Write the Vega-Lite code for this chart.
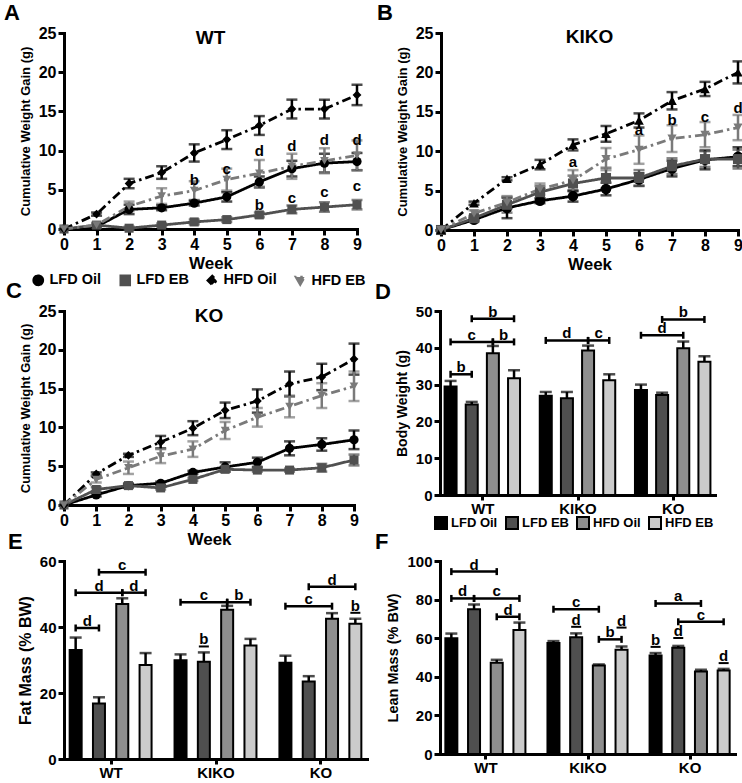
{
"$schema":"https://vega.github.io/schema/vega-lite/v6.json",
"background":"white",
"padding":{"left":4,"top":2,"right":2,"bottom":0},
"config":{
 "font":"Liberation Sans",
 "view":{"stroke":null},
 "axis":{"labelFont":"Liberation Sans","titleFont":"Liberation Sans","labelFontWeight":"bold","titleFontWeight":"bold","labelColor":"#000","titleColor":"#000","domainColor":"#000","tickColor":"#000","domainWidth":3,"tickWidth":3,"tickSize":6,"labelFontSize":15,"titleFontSize":14,"grid":false,"labelFlush":false,"labelOverlap":false,"labelBound":false,"domainCap":"square"},
 "axisY":{"titlePadding":6,"labelPadding":2},
 "axisX":{"labelPadding":1},
 "legend":{"labelFont":"Liberation Sans","labelFontWeight":"bold","labelFontSize":14,"labelColor":"#000","symbolOpacity":1},
 "title":{"font":"Liberation Sans","fontWeight":"bold","color":"#000"},
 "text":{"font":"Liberation Sans","fontWeight":"bold","color":"#000"}
},
"datasets":{
 "growth":[
  {"geno":"WT","diet":"LFD Oil","week":0,"mean":0,"sem":0},{"geno":"WT","diet":"LFD Oil","week":1,"mean":0.3,"sem":0.2},{"geno":"WT","diet":"LFD Oil","week":2,"mean":2.5,"sem":0.6},{"geno":"WT","diet":"LFD Oil","week":3,"mean":2.7,"sem":0.3},{"geno":"WT","diet":"LFD Oil","week":4,"mean":3.3,"sem":0.3},{"geno":"WT","diet":"LFD Oil","week":5,"mean":4.1,"sem":0.6},{"geno":"WT","diet":"LFD Oil","week":6,"mean":6.0,"sem":0.7},{"geno":"WT","diet":"LFD Oil","week":7,"mean":7.7,"sem":1.0},{"geno":"WT","diet":"LFD Oil","week":8,"mean":8.4,"sem":1.2},{"geno":"WT","diet":"LFD Oil","week":9,"mean":8.6,"sem":1.1},
  {"geno":"WT","diet":"LFD EB","week":0,"mean":0,"sem":0},{"geno":"WT","diet":"LFD EB","week":1,"mean":0.5,"sem":0.2},{"geno":"WT","diet":"LFD EB","week":2,"mean":0.1,"sem":0.2},{"geno":"WT","diet":"LFD EB","week":3,"mean":0.5,"sem":0.2},{"geno":"WT","diet":"LFD EB","week":4,"mean":0.9,"sem":0.3},{"geno":"WT","diet":"LFD EB","week":5,"mean":1.2,"sem":0.3},{"geno":"WT","diet":"LFD EB","week":6,"mean":1.8,"sem":0.3},{"geno":"WT","diet":"LFD EB","week":7,"mean":2.5,"sem":0.5},{"geno":"WT","diet":"LFD EB","week":8,"mean":2.8,"sem":0.6},{"geno":"WT","diet":"LFD EB","week":9,"mean":3.1,"sem":0.6},
  {"geno":"WT","diet":"HFD Oil","week":0,"mean":0,"sem":0},{"geno":"WT","diet":"HFD Oil","week":1,"mean":1.9,"sem":0.2},{"geno":"WT","diet":"HFD Oil","week":2,"mean":5.8,"sem":0.6},{"geno":"WT","diet":"HFD Oil","week":3,"mean":7.2,"sem":0.8},{"geno":"WT","diet":"HFD Oil","week":4,"mean":9.7,"sem":1.1},{"geno":"WT","diet":"HFD Oil","week":5,"mean":11.4,"sem":1.2},{"geno":"WT","diet":"HFD Oil","week":6,"mean":13.2,"sem":1.2},{"geno":"WT","diet":"HFD Oil","week":7,"mean":15.3,"sem":1.2},{"geno":"WT","diet":"HFD Oil","week":8,"mean":15.3,"sem":1.2},{"geno":"WT","diet":"HFD Oil","week":9,"mean":17.1,"sem":1.3},
  {"geno":"WT","diet":"HFD EB","week":0,"mean":0,"sem":0},{"geno":"WT","diet":"HFD EB","week":1,"mean":0.5,"sem":0.3},{"geno":"WT","diet":"HFD EB","week":2,"mean":2.9,"sem":0.6},{"geno":"WT","diet":"HFD EB","week":3,"mean":4.2,"sem":1.0},{"geno":"WT","diet":"HFD EB","week":4,"mean":4.9,"sem":1.2},{"geno":"WT","diet":"HFD EB","week":5,"mean":6.3,"sem":1.4},{"geno":"WT","diet":"HFD EB","week":6,"mean":7.1,"sem":1.7},{"geno":"WT","diet":"HFD EB","week":7,"mean":8.0,"sem":1.6},{"geno":"WT","diet":"HFD EB","week":8,"mean":8.7,"sem":1.6},{"geno":"WT","diet":"HFD EB","week":9,"mean":9.4,"sem":1.9},
  {"geno":"KIKO","diet":"LFD Oil","week":0,"mean":0,"sem":0},{"geno":"KIKO","diet":"LFD Oil","week":1,"mean":1.3,"sem":0.2},{"geno":"KIKO","diet":"LFD Oil","week":2,"mean":2.8,"sem":1.3},{"geno":"KIKO","diet":"LFD Oil","week":3,"mean":3.7,"sem":0.3},{"geno":"KIKO","diet":"LFD Oil","week":4,"mean":4.3,"sem":0.7},{"geno":"KIKO","diet":"LFD Oil","week":5,"mean":5.2,"sem":0.8},{"geno":"KIKO","diet":"LFD Oil","week":6,"mean":6.4,"sem":0.8},{"geno":"KIKO","diet":"LFD Oil","week":7,"mean":7.8,"sem":1.0},{"geno":"KIKO","diet":"LFD Oil","week":8,"mean":8.9,"sem":1.2},{"geno":"KIKO","diet":"LFD Oil","week":9,"mean":9.3,"sem":1.2},
  {"geno":"KIKO","diet":"LFD EB","week":0,"mean":0,"sem":0},{"geno":"KIKO","diet":"LFD EB","week":1,"mean":1.5,"sem":0.3},{"geno":"KIKO","diet":"LFD EB","week":2,"mean":3.2,"sem":1.0},{"geno":"KIKO","diet":"LFD EB","week":3,"mean":4.8,"sem":0.8},{"geno":"KIKO","diet":"LFD EB","week":4,"mean":5.9,"sem":1.0},{"geno":"KIKO","diet":"LFD EB","week":5,"mean":6.6,"sem":1.3},{"geno":"KIKO","diet":"LFD EB","week":6,"mean":6.6,"sem":1.0},{"geno":"KIKO","diet":"LFD EB","week":7,"mean":8.1,"sem":1.0},{"geno":"KIKO","diet":"LFD EB","week":8,"mean":9.0,"sem":1.0},{"geno":"KIKO","diet":"LFD EB","week":9,"mean":9.0,"sem":1.2},
  {"geno":"KIKO","diet":"HFD Oil","week":0,"mean":0,"sem":0},{"geno":"KIKO","diet":"HFD Oil","week":1,"mean":3.4,"sem":0.2},{"geno":"KIKO","diet":"HFD Oil","week":2,"mean":6.5,"sem":0.2},{"geno":"KIKO","diet":"HFD Oil","week":3,"mean":8.3,"sem":0.6},{"geno":"KIKO","diet":"HFD Oil","week":4,"mean":10.8,"sem":0.7},{"geno":"KIKO","diet":"HFD Oil","week":5,"mean":12.2,"sem":1.0},{"geno":"KIKO","diet":"HFD Oil","week":6,"mean":13.9,"sem":0.9},{"geno":"KIKO","diet":"HFD Oil","week":7,"mean":16.4,"sem":1.1},{"geno":"KIKO","diet":"HFD Oil","week":8,"mean":17.9,"sem":0.9},{"geno":"KIKO","diet":"HFD Oil","week":9,"mean":20.0,"sem":1.4},
  {"geno":"KIKO","diet":"HFD EB","week":0,"mean":0,"sem":0},{"geno":"KIKO","diet":"HFD EB","week":1,"mean":2.1,"sem":0.4},{"geno":"KIKO","diet":"HFD EB","week":2,"mean":3.5,"sem":0.8},{"geno":"KIKO","diet":"HFD EB","week":3,"mean":5.2,"sem":0.7},{"geno":"KIKO","diet":"HFD EB","week":4,"mean":6.3,"sem":1.3},{"geno":"KIKO","diet":"HFD EB","week":5,"mean":9.0,"sem":1.4},{"geno":"KIKO","diet":"HFD EB","week":6,"mean":10.2,"sem":1.8},{"geno":"KIKO","diet":"HFD EB","week":7,"mean":11.6,"sem":1.7},{"geno":"KIKO","diet":"HFD EB","week":8,"mean":12.1,"sem":1.6},{"geno":"KIKO","diet":"HFD EB","week":9,"mean":13.0,"sem":1.6},
  {"geno":"KO","diet":"LFD Oil","week":0,"mean":0,"sem":0},{"geno":"KO","diet":"LFD Oil","week":1,"mean":1.3,"sem":0.2},{"geno":"KO","diet":"LFD Oil","week":2,"mean":2.5,"sem":0.2},{"geno":"KO","diet":"LFD Oil","week":3,"mean":2.8,"sem":0.2},{"geno":"KO","diet":"LFD Oil","week":4,"mean":4.2,"sem":0.2},{"geno":"KO","diet":"LFD Oil","week":5,"mean":4.9,"sem":0.6},{"geno":"KO","diet":"LFD Oil","week":6,"mean":5.5,"sem":0.6},{"geno":"KO","diet":"LFD Oil","week":7,"mean":7.3,"sem":0.9},{"geno":"KO","diet":"LFD Oil","week":8,"mean":7.8,"sem":0.8},{"geno":"KO","diet":"LFD Oil","week":9,"mean":8.4,"sem":1.2},
  {"geno":"KO","diet":"LFD EB","week":0,"mean":0,"sem":0},{"geno":"KO","diet":"LFD EB","week":1,"mean":2.0,"sem":0.3},{"geno":"KO","diet":"LFD EB","week":2,"mean":2.5,"sem":0.3},{"geno":"KO","diet":"LFD EB","week":3,"mean":2.2,"sem":0.2},{"geno":"KO","diet":"LFD EB","week":4,"mean":3.3,"sem":0.2},{"geno":"KO","diet":"LFD EB","week":5,"mean":4.6,"sem":0.3},{"geno":"KO","diet":"LFD EB","week":6,"mean":4.5,"sem":0.2},{"geno":"KO","diet":"LFD EB","week":7,"mean":4.5,"sem":0.2},{"geno":"KO","diet":"LFD EB","week":8,"mean":4.8,"sem":0.5},{"geno":"KO","diet":"LFD EB","week":9,"mean":5.8,"sem":0.7},
  {"geno":"KO","diet":"HFD Oil","week":0,"mean":0,"sem":0},{"geno":"KO","diet":"HFD Oil","week":1,"mean":4.0,"sem":0.2},{"geno":"KO","diet":"HFD Oil","week":2,"mean":6.4,"sem":0.2},{"geno":"KO","diet":"HFD Oil","week":3,"mean":8.1,"sem":0.8},{"geno":"KO","diet":"HFD Oil","week":4,"mean":9.9,"sem":0.9},{"geno":"KO","diet":"HFD Oil","week":5,"mean":12.2,"sem":1.0},{"geno":"KO","diet":"HFD Oil","week":6,"mean":13.4,"sem":1.5},{"geno":"KO","diet":"HFD Oil","week":7,"mean":15.6,"sem":1.6},{"geno":"KO","diet":"HFD Oil","week":8,"mean":16.5,"sem":1.7},{"geno":"KO","diet":"HFD Oil","week":9,"mean":18.8,"sem":2.0},
  {"geno":"KO","diet":"HFD EB","week":0,"mean":0,"sem":0},{"geno":"KO","diet":"HFD EB","week":1,"mean":3.3,"sem":0.4},{"geno":"KO","diet":"HFD EB","week":2,"mean":4.8,"sem":0.8},{"geno":"KO","diet":"HFD EB","week":3,"mean":6.3,"sem":0.9},{"geno":"KO","diet":"HFD EB","week":4,"mean":7.2,"sem":1.0},{"geno":"KO","diet":"HFD EB","week":5,"mean":9.6,"sem":1.1},{"geno":"KO","diet":"HFD EB","week":6,"mean":11.3,"sem":1.2},{"geno":"KO","diet":"HFD EB","week":7,"mean":12.7,"sem":1.4},{"geno":"KO","diet":"HFD EB","week":8,"mean":14.1,"sem":1.6},{"geno":"KO","diet":"HFD EB","week":9,"mean":15.3,"sem":1.9}
 ],
 "lineNotes":[
  {"geno":"WT","week":4,"y":6.2,"label":"b"},{"geno":"WT","week":5,"y":7.7,"label":"c"},{"geno":"WT","week":6,"y":10.0,"label":"d"},{"geno":"WT","week":6,"y":3.1,"label":"b"},{"geno":"WT","week":7,"y":10.6,"label":"d"},{"geno":"WT","week":7,"y":4.0,"label":"c"},{"geno":"WT","week":8,"y":11.3,"label":"d"},{"geno":"WT","week":8,"y":4.7,"label":"c"},{"geno":"WT","week":9,"y":11.3,"label":"d"},{"geno":"WT","week":9,"y":5.5,"label":"c"},
  {"geno":"KIKO","week":4,"y":8.6,"label":"a"},{"geno":"KIKO","week":6,"y":12.7,"label":"a"},{"geno":"KIKO","week":7,"y":13.9,"label":"b"},{"geno":"KIKO","week":8,"y":14.4,"label":"c"},{"geno":"KIKO","week":9,"y":15.5,"label":"d"}
 ],
 "bars":[
  {"panel":"D","key":"WT LFD Oil","cond":"LFD Oil","mean":29.5,"sem":1.5},{"panel":"D","key":"WT LFD EB","cond":"LFD EB","mean":24.6,"sem":0.7},{"panel":"D","key":"WT HFD Oil","cond":"HFD Oil","mean":38.5,"sem":2.0},{"panel":"D","key":"WT HFD EB","cond":"HFD EB","mean":31.7,"sem":2.2},
  {"panel":"D","key":"KIKO LFD Oil","cond":"LFD Oil","mean":27.0,"sem":1.0},{"panel":"D","key":"KIKO LFD EB","cond":"LFD EB","mean":26.3,"sem":1.7},{"panel":"D","key":"KIKO HFD Oil","cond":"HFD Oil","mean":39.3,"sem":1.3},{"panel":"D","key":"KIKO HFD EB","cond":"HFD EB","mean":31.2,"sem":1.6},
  {"panel":"D","key":"KO LFD Oil","cond":"LFD Oil","mean":28.5,"sem":1.5},{"panel":"D","key":"KO LFD EB","cond":"LFD EB","mean":27.2,"sem":0.6},{"panel":"D","key":"KO HFD Oil","cond":"HFD Oil","mean":39.9,"sem":1.8},{"panel":"D","key":"KO HFD EB","cond":"HFD EB","mean":36.2,"sem":1.5},
  {"panel":"E","key":"WT LFD Oil","cond":"LFD Oil","mean":33.0,"sem":3.8},{"panel":"E","key":"WT LFD EB","cond":"LFD EB","mean":16.8,"sem":1.9},{"panel":"E","key":"WT HFD Oil","cond":"HFD Oil","mean":47.0,"sem":1.7},{"panel":"E","key":"WT HFD EB","cond":"HFD EB","mean":28.5,"sem":3.6},
  {"panel":"E","key":"KIKO LFD Oil","cond":"LFD Oil","mean":29.9,"sem":1.8},{"panel":"E","key":"KIKO LFD EB","cond":"LFD EB","mean":29.5,"sem":2.8},{"panel":"E","key":"KIKO HFD Oil","cond":"HFD Oil","mean":45.2,"sem":1.2},{"panel":"E","key":"KIKO HFD EB","cond":"HFD EB","mean":34.4,"sem":2.0},
  {"panel":"E","key":"KO LFD Oil","cond":"LFD Oil","mean":29.2,"sem":2.1},{"panel":"E","key":"KO LFD EB","cond":"LFD EB","mean":23.5,"sem":1.6},{"panel":"E","key":"KO HFD Oil","cond":"HFD Oil","mean":42.5,"sem":1.7},{"panel":"E","key":"KO HFD EB","cond":"HFD EB","mean":41.0,"sem":1.5},
  {"panel":"F","key":"WT LFD Oil","cond":"LFD Oil","mean":60.0,"sem":2.4},{"panel":"F","key":"WT LFD EB","cond":"LFD EB","mean":75.0,"sem":2.5},{"panel":"F","key":"WT HFD Oil","cond":"HFD Oil","mean":47.3,"sem":1.5},{"panel":"F","key":"WT HFD EB","cond":"HFD EB","mean":64.3,"sem":3.8},
  {"panel":"F","key":"KIKO LFD Oil","cond":"LFD Oil","mean":57.5,"sem":1.0},{"panel":"F","key":"KIKO LFD EB","cond":"LFD EB","mean":60.5,"sem":2.0},{"panel":"F","key":"KIKO HFD Oil","cond":"HFD Oil","mean":45.8,"sem":0.6},{"panel":"F","key":"KIKO HFD EB","cond":"HFD EB","mean":54.0,"sem":1.7},
  {"panel":"F","key":"KO LFD Oil","cond":"LFD Oil","mean":51.0,"sem":1.3},{"panel":"F","key":"KO LFD EB","cond":"LFD EB","mean":55.0,"sem":1.0},{"panel":"F","key":"KO HFD Oil","cond":"HFD Oil","mean":42.8,"sem":0.8},{"panel":"F","key":"KO HFD EB","cond":"HFD EB","mean":43.3,"sem":0.8}
 ],
 "ann":[
  {"panel":"D","from":"WT LFD Oil","to":"WT LFD EB","mid":"WT m12","y":32.8,"label":"b"},
  {"panel":"D","from":"WT LFD Oil","to":"WT HFD Oil","mid":"WT LFD EB","y":41.6,"label":"c"},
  {"panel":"D","from":"WT HFD Oil","to":"WT HFD EB","mid":"WT m34","y":41.6,"label":"b"},
  {"panel":"D","from":"WT LFD EB","to":"WT HFD EB","mid":"WT HFD Oil","y":47.9,"label":"b"},
  {"panel":"D","from":"KIKO LFD Oil","to":"KIKO HFD Oil","mid":"KIKO LFD EB","y":42.0,"label":"d"},
  {"panel":"D","from":"KIKO HFD Oil","to":"KIKO HFD EB","mid":"KIKO m34","y":42.0,"label":"c"},
  {"panel":"D","from":"KO LFD Oil","to":"KO HFD Oil","mid":"KO LFD EB","y":43.4,"label":"d"},
  {"panel":"D","from":"KO LFD EB","to":"KO HFD EB","mid":"KO HFD Oil","y":47.7,"label":"b"},
  {"panel":"E","from":"WT LFD Oil","to":"WT LFD EB","mid":"WT m12","y":39.7,"label":"d"},
  {"panel":"E","from":"WT LFD Oil","to":"WT HFD Oil","mid":"WT LFD EB","y":50.4,"label":"d"},
  {"panel":"E","from":"WT HFD Oil","to":"WT HFD EB","mid":"WT m34","y":50.4,"label":"d"},
  {"panel":"E","from":"WT LFD EB","to":"WT HFD EB","mid":"WT HFD Oil","y":56.6,"label":"c"},
  {"panel":"E","from":"KIKO LFD Oil","to":"KIKO HFD Oil","mid":"KIKO LFD EB","y":47.5,"label":"c"},
  {"panel":"E","from":"KIKO HFD Oil","to":"KIKO HFD EB","mid":"KIKO m34","y":47.5,"label":"b"},
  {"panel":"E","mid":"KIKO LFD EB","y":34.1,"label":"b"},
  {"panel":"E","from":"KO LFD Oil","to":"KO HFD Oil","mid":"KO LFD EB","y":46.3,"label":"c"},
  {"panel":"E","from":"KO LFD EB","to":"KO HFD EB","mid":"KO HFD Oil","y":52.2,"label":"d"},
  {"panel":"E","mid":"KO HFD EB","y":44.3,"label":"b"},
  {"panel":"F","from":"WT LFD Oil","to":"WT HFD Oil","mid":"WT LFD EB","y":94.5,"label":"d"},
  {"panel":"F","from":"WT LFD Oil","to":"WT LFD EB","mid":"WT m12","y":80.6,"label":"d"},
  {"panel":"F","from":"WT LFD EB","to":"WT HFD EB","mid":"WT HFD Oil","y":80.6,"label":"c"},
  {"panel":"F","from":"WT HFD Oil","to":"WT HFD EB","mid":"WT m34","y":71.1,"label":"d"},
  {"panel":"F","from":"KIKO LFD Oil","to":"KIKO HFD Oil","mid":"KIKO LFD EB","y":75.0,"label":"c"},
  {"panel":"F","mid":"KIKO LFD EB","y":65.9,"label":"d"},
  {"panel":"F","from":"KIKO HFD Oil","to":"KIKO HFD EB","mid":"KIKO m34","y":59.4,"label":"b"},
  {"panel":"F","mid":"KIKO HFD EB","y":65.5,"label":"d"},
  {"panel":"F","from":"KO LFD Oil","to":"KO HFD Oil","mid":"KO LFD EB","y":78.0,"label":"a"},
  {"panel":"F","from":"KO LFD EB","to":"KO HFD EB","mid":"KO HFD Oil","y":68.5,"label":"c"},
  {"panel":"F","mid":"KO LFD Oil","y":55.5,"label":"b"},
  {"panel":"F","mid":"KO LFD EB","y":60.1,"label":"d"},
  {"panel":"F","mid":"KO HFD EB","y":47.1,"label":"d"}
 ]
},
"spacing":-10,
"resolve":{"scale":{"color":"independent","fill":"independent","shape":"independent","strokeDash":"independent","size":"independent"},"legend":{"color":"independent","fill":"independent","shape":"independent","strokeDash":"independent","size":"independent"}},
"vconcat":[
{"hconcat":[
 {"width":293,"height":196,
  "title":{"text":"A","anchor":"start","frame":"group","dx":-60,"fontSize":22,"offset":0},
  "layer":[
   {"data":{"name":"growth"},"transform":[{"filter":"datum.geno == 'WT'"}],
    "encoding":{
     "x":{"field":"week","type":"quantitative","scale":{"domain":[0,9],"nice":false},"axis":{"values":[0,1,2,3,4,5,6,7,8,9],"title":"Week","titleFontSize":17,"titlePadding":3,"format":"d","labelFontSize":16}},
     "y":{"field":"mean","type":"quantitative","scale":{"domain":[0,25],"nice":false},"axis":{"values":[0,5,10,15,20,25],"title":"Cumulative Weight Gain (g)","titleFontSize":13,"labelFontSize":16}},
     "color":{"field":"diet","type":"nominal","scale":{"domain":["LFD Oil","LFD EB","HFD Oil","HFD EB"],"range":["#000000","#505050","#000000","#7a7a7a"]},
      "legend":{"orient":"none","legendX":-33,"legendY":240,"direction":"horizontal","columns":4,"title":null,"symbolSize":110,"symbolStrokeWidth":2.5,"symbolOpacity":1,"labelFontSize":14.5,"columnPadding":13,"labelOffset":4}}
    },
    "layer":[
     {"transform":[{"filter":"datum.sem > 0"}],"mark":{"type":"errorbar","ticks":true,"size":11,"thickness":2.5},"encoding":{"yError":{"field":"sem"}}},
     {"mark":{"type":"line","strokeWidth":2.8},"encoding":{"strokeDash":{"field":"diet","type":"nominal","scale":{"domain":["LFD Oil","LFD EB","HFD Oil","HFD EB"],"range":[[1,0],[1,0],[9,4,2.5,4],[9,4,2.5,4]]},"legend":null}}},
     {"mark":{"type":"point","filled":true,"opacity":1},"encoding":{"shape":{"field":"diet","type":"nominal","scale":{"domain":["LFD Oil","LFD EB","HFD Oil","HFD EB"],"range":["circle","square","diamond","triangle-down"]},"legend":null},"size":{"field":"diet","type":"nominal","scale":{"domain":["LFD Oil","LFD EB","HFD Oil","HFD EB"],"range":[85,75,55,85]},"legend":null}}}
    ]},
   {"data":{"name":"lineNotes"},"transform":[{"filter":"datum.geno == 'WT'"}],"mark":{"type":"text","fontSize":15,"baseline":"middle"},"encoding":{
     "x":{"field":"week","type":"quantitative","scale":{"domain":[0,9],"nice":false},"axis":{"values":[0,1,2,3,4,5,6,7,8,9],"title":"Week","titleFontSize":17,"titlePadding":3,"format":"d","labelFontSize":16}},
     "y":{"field":"y","type":"quantitative","scale":{"domain":[0,25],"nice":false},"axis":{"values":[0,5,10,15,20,25],"title":"Cumulative Weight Gain (g)","titleFontSize":13,"labelFontSize":16}},
     "text":{"field":"label"}}},
   {"data":{"values":[{"t":"WT"}]},"mark":{"type":"text","fontSize":19,"baseline":"middle"},"encoding":{
     "x":{"datum":4.5,"type":"quantitative","scale":{"domain":[0,9],"nice":false},"axis":{"values":[0,1,2,3,4,5,6,7,8,9],"title":"Week","titleFontSize":17,"titlePadding":3,"format":"d","labelFontSize":16}},
     "y":{"datum":24.4,"type":"quantitative","scale":{"domain":[0,25],"nice":false},"axis":{"values":[0,5,10,15,20,25],"title":"Cumulative Weight Gain (g)","titleFontSize":13,"labelFontSize":16}},
     "text":{"field":"t"}}}
  ]},
 {"width":297,"height":197,
  "title":{"text":"B","anchor":"start","frame":"group","dx":-64,"fontSize":22,"offset":0},
  "layer":[
   {"data":{"name":"growth"},"transform":[{"filter":"datum.geno == 'KIKO'"}],
    "encoding":{
     "x":{"field":"week","type":"quantitative","scale":{"domain":[0,9],"nice":false},"axis":{"values":[0,1,2,3,4,5,6,7,8,9],"title":"Week","titleFontSize":17,"titlePadding":3,"format":"d","labelFontSize":16}},
     "y":{"field":"mean","type":"quantitative","scale":{"domain":[0,25],"nice":false},"axis":{"values":[0,5,10,15,20,25],"title":"Cumulative Weight Gain (g)","titleFontSize":13,"labelFontSize":16}},
     "color":{"field":"diet","type":"nominal","scale":{"domain":["LFD Oil","LFD EB","HFD Oil","HFD EB"],"range":["#000000","#505050","#000000","#7a7a7a"]},"legend":null}
    },
    "layer":[
     {"transform":[{"filter":"datum.sem > 0"}],"mark":{"type":"errorbar","ticks":true,"size":11,"thickness":2.5},"encoding":{"yError":{"field":"sem"}}},
     {"mark":{"type":"line","strokeWidth":2.8},"encoding":{"strokeDash":{"field":"diet","type":"nominal","scale":{"domain":["LFD Oil","LFD EB","HFD Oil","HFD EB"],"range":[[1,0],[1,0],[9,4,2.5,4],[9,4,2.5,4]]},"legend":null}}},
     {"mark":{"type":"point","filled":true,"opacity":1},"encoding":{"shape":{"field":"diet","type":"nominal","scale":{"domain":["LFD Oil","LFD EB","HFD Oil","HFD EB"],"range":["circle","square","triangle-up","triangle-down"]},"legend":null},"size":{"field":"diet","type":"nominal","scale":{"domain":["LFD Oil","LFD EB","HFD Oil","HFD EB"],"range":[110,85,70,85]},"legend":null}}}
    ]},
   {"data":{"name":"lineNotes"},"transform":[{"filter":"datum.geno == 'KIKO'"}],"mark":{"type":"text","fontSize":15,"baseline":"middle"},"encoding":{
     "x":{"field":"week","type":"quantitative","scale":{"domain":[0,9],"nice":false},"axis":{"values":[0,1,2,3,4,5,6,7,8,9],"title":"Week","titleFontSize":17,"titlePadding":3,"format":"d","labelFontSize":16}},
     "y":{"field":"y","type":"quantitative","scale":{"domain":[0,25],"nice":false},"axis":{"values":[0,5,10,15,20,25],"title":"Cumulative Weight Gain (g)","titleFontSize":13,"labelFontSize":16}},
     "text":{"field":"label"}}},
   {"data":{"values":[{"t":"KIKO"}]},"mark":{"type":"text","fontSize":19,"baseline":"middle"},"encoding":{
     "x":{"datum":4.5,"type":"quantitative","scale":{"domain":[0,9],"nice":false},"axis":{"values":[0,1,2,3,4,5,6,7,8,9],"title":"Week","titleFontSize":17,"titlePadding":3,"format":"d","labelFontSize":16}},
     "y":{"datum":24.5,"type":"quantitative","scale":{"domain":[0,25],"nice":false},"axis":{"values":[0,5,10,15,20,25],"title":"Cumulative Weight Gain (g)","titleFontSize":13,"labelFontSize":16}},
     "text":{"field":"t"}}}
  ]}
],"spacing":11,
"resolve":{"scale":{"color":"independent","fill":"independent","shape":"independent","strokeDash":"independent","size":"independent"},"legend":{"color":"independent","fill":"independent","shape":"independent","strokeDash":"independent","size":"independent"}}},
{"vconcat":[
{"hconcat":[
 {"width":290,"height":194,
  "title":{"text":"C","anchor":"start","frame":"group","dx":-58,"fontSize":22,"offset":0},
  "layer":[
   {"data":{"name":"growth"},"transform":[{"filter":"datum.geno == 'KO'"}],
    "encoding":{
     "x":{"field":"week","type":"quantitative","scale":{"domain":[0,9],"nice":false},"axis":{"values":[0,1,2,3,4,5,6,7,8,9],"title":"Week","titleFontSize":17,"titlePadding":3,"format":"d","labelFontSize":16}},
     "y":{"field":"mean","type":"quantitative","scale":{"domain":[0,25],"nice":false},"axis":{"values":[0,5,10,15,20,25],"title":"Cumulative Weight Gain (g)","titleFontSize":13,"labelFontSize":16}},
     "color":{"field":"diet","type":"nominal","scale":{"domain":["LFD Oil","LFD EB","HFD Oil","HFD EB"],"range":["#000000","#505050","#000000","#7a7a7a"]},"legend":null}
    },
    "layer":[
     {"transform":[{"filter":"datum.sem > 0"}],"mark":{"type":"errorbar","ticks":true,"size":11,"thickness":2.5},"encoding":{"yError":{"field":"sem"}}},
     {"mark":{"type":"line","strokeWidth":2.8},"encoding":{"strokeDash":{"field":"diet","type":"nominal","scale":{"domain":["LFD Oil","LFD EB","HFD Oil","HFD EB"],"range":[[1,0],[1,0],[9,4,2.5,4],[9,4,2.5,4]]},"legend":null}}},
     {"mark":{"type":"point","filled":true,"opacity":1},"encoding":{"shape":{"field":"diet","type":"nominal","scale":{"domain":["LFD Oil","LFD EB","HFD Oil","HFD EB"],"range":["circle","square","diamond","triangle-down"]},"legend":null},"size":{"field":"diet","type":"nominal","scale":{"domain":["LFD Oil","LFD EB","HFD Oil","HFD EB"],"range":[85,75,55,85]},"legend":null}}}
    ]},
   {"data":{"values":[{"t":"KO"}]},"mark":{"type":"text","fontSize":19,"baseline":"middle"},"encoding":{
     "x":{"datum":4.5,"type":"quantitative","scale":{"domain":[0,9],"nice":false},"axis":{"values":[0,1,2,3,4,5,6,7,8,9],"title":"Week","titleFontSize":17,"titlePadding":3,"format":"d","labelFontSize":16}},
     "y":{"datum":24.3,"type":"quantitative","scale":{"domain":[0,25],"nice":false},"axis":{"values":[0,5,10,15,20,25],"title":"Cumulative Weight Gain (g)","titleFontSize":13,"labelFontSize":16}},
     "text":{"field":"t"}}}
  ]},
 {"width":275,"height":184,
  "title":{"text":"D","anchor":"start","frame":"group","dx":-65,"fontSize":22,"offset":0},
  "layer":[
   {"data":{"name":"bars"},"transform":[{"filter":"datum.panel == 'D'"}],
    "encoding":{
     "x":{"field":"key","type":"nominal","scale":{"type":"point","padding":1.4,"domain":["WT LFD Oil","WT m12","WT LFD EB","WT m23","WT HFD Oil","WT m34","WT HFD EB","s1","s2","KIKO LFD Oil","KIKO m12","KIKO LFD EB","KIKO m23","KIKO HFD Oil","KIKO m34","KIKO HFD EB","s3","s4","KO LFD Oil","KO m12","KO LFD EB","KO m23","KO HFD Oil","KO m34","KO HFD EB"]},"axis":{"values":["WT m23","KIKO m23","KO m23"],"labelExpr":"split(datum.value, ' ')[0]","title":null,"tickSize":5,"labelFontSize":15,"labelAngle":0}},
     "y":{"field":"mean","type":"quantitative","scale":{"domain":[0,50],"nice":false},"axis":{"values":[0,10,20,30,40,50],"title":"Body Weight (g)","titleFontSize":14,"labelFontSize":15}}
    },
    "layer":[
     {"mark":{"type":"errorbar","ticks":true,"size":12,"thickness":2.5,"color":"#000"},"encoding":{"yError":{"field":"sem"}}},
     {"mark":{"type":"bar","width":12,"stroke":"#000","strokeWidth":2},
      "encoding":{"fill":{"field":"cond","type":"nominal","scale":{"domain":["LFD Oil","LFD EB","HFD Oil","HFD EB"],"range":["#000000","#4f4f4f","#8e8e8e","#cbcbcb"]},
        "legend":{"orient":"none","legendX":-6,"legendY":205,"direction":"horizontal","columns":4,"title":null,"symbolType":"square","symbolSize":144,"symbolStrokeColor":"#000","symbolStrokeWidth":2,"symbolOpacity":1,"labelFontSize":13,"columnPadding":4,"labelOffset":3}}}}
    ]},
   {"data":{"name":"ann"},"transform":[{"filter":"datum.panel == 'D' && isValid(datum.from)"}],
    "encoding":{"y":{"field":"y","type":"quantitative","scale":{"domain":[0,50],"nice":false},"axis":{"values":[0,10,20,30,40,50],"title":"Body Weight (g)","titleFontSize":14,"labelFontSize":15}}},
    "layer":[
     {"mark":{"type":"rule","strokeWidth":2.5,"color":"#000"},"encoding":{"x":{"field":"from","type":"nominal","scale":{"type":"point","padding":1.4,"domain":["WT LFD Oil","WT m12","WT LFD EB","WT m23","WT HFD Oil","WT m34","WT HFD EB","s1","s2","KIKO LFD Oil","KIKO m12","KIKO LFD EB","KIKO m23","KIKO HFD Oil","KIKO m34","KIKO HFD EB","s3","s4","KO LFD Oil","KO m12","KO LFD EB","KO m23","KO HFD Oil","KO m34","KO HFD EB"]},"axis":{"values":["WT m23","KIKO m23","KO m23"],"labelExpr":"split(datum.value, ' ')[0]","title":null,"tickSize":5,"labelFontSize":15,"labelAngle":0}},"x2":{"field":"to"}}},
     {"mark":{"type":"point","shape":"M0,-1L0,1","size":49,"strokeWidth":2.5,"color":"#000","opacity":1},"encoding":{"x":{"field":"from","type":"nominal","scale":{"type":"point","padding":1.4,"domain":["WT LFD Oil","WT m12","WT LFD EB","WT m23","WT HFD Oil","WT m34","WT HFD EB","s1","s2","KIKO LFD Oil","KIKO m12","KIKO LFD EB","KIKO m23","KIKO HFD Oil","KIKO m34","KIKO HFD EB","s3","s4","KO LFD Oil","KO m12","KO LFD EB","KO m23","KO HFD Oil","KO m34","KO HFD EB"]},"axis":{"values":["WT m23","KIKO m23","KO m23"],"labelExpr":"split(datum.value, ' ')[0]","title":null,"tickSize":5,"labelFontSize":15,"labelAngle":0}}}},
     {"mark":{"type":"point","shape":"M0,-1L0,1","size":49,"strokeWidth":2.5,"color":"#000","opacity":1},"encoding":{"x":{"field":"to","type":"nominal","scale":{"type":"point","padding":1.4,"domain":["WT LFD Oil","WT m12","WT LFD EB","WT m23","WT HFD Oil","WT m34","WT HFD EB","s1","s2","KIKO LFD Oil","KIKO m12","KIKO LFD EB","KIKO m23","KIKO HFD Oil","KIKO m34","KIKO HFD EB","s3","s4","KO LFD Oil","KO m12","KO LFD EB","KO m23","KO HFD Oil","KO m34","KO HFD EB"]},"axis":{"values":["WT m23","KIKO m23","KO m23"],"labelExpr":"split(datum.value, ' ')[0]","title":null,"tickSize":5,"labelFontSize":15,"labelAngle":0}}}}
    ]},
   {"data":{"name":"ann"},"transform":[{"filter":"datum.panel == 'D'"}],
    "mark":{"type":"text","fontSize":15,"baseline":"alphabetic","dy":-2},
    "encoding":{"x":{"field":"mid","type":"nominal","scale":{"type":"point","padding":1.4,"domain":["WT LFD Oil","WT m12","WT LFD EB","WT m23","WT HFD Oil","WT m34","WT HFD EB","s1","s2","KIKO LFD Oil","KIKO m12","KIKO LFD EB","KIKO m23","KIKO HFD Oil","KIKO m34","KIKO HFD EB","s3","s4","KO LFD Oil","KO m12","KO LFD EB","KO m23","KO HFD Oil","KO m34","KO HFD EB"]},"axis":{"values":["WT m23","KIKO m23","KO m23"],"labelExpr":"split(datum.value, ' ')[0]","title":null,"tickSize":5,"labelFontSize":15,"labelAngle":0}},
     "y":{"field":"y","type":"quantitative","scale":{"domain":[0,50],"nice":false},"axis":{"values":[0,10,20,30,40,50],"title":"Body Weight (g)","titleFontSize":14,"labelFontSize":15}},"text":{"field":"label"}}}
  ]}
],"spacing":15,
"resolve":{"scale":{"color":"independent","fill":"independent","shape":"independent","strokeDash":"independent","size":"independent"},"legend":{"color":"independent","fill":"independent","shape":"independent","strokeDash":"independent","size":"independent"}}},
{"hconcat":[
 {"width":303,"height":198,
  "title":{"text":"E","anchor":"start","frame":"group","dx":-56,"fontSize":22,"offset":0},
  "layer":[
   {"data":{"name":"bars"},"transform":[{"filter":"datum.panel == 'E'"}],
    "encoding":{
     "x":{"field":"key","type":"nominal","scale":{"type":"point","padding":1.8,"domain":["WT LFD Oil","WT m12","WT LFD EB","WT m23","WT HFD Oil","WT m34","WT HFD EB","s1","s2","KIKO LFD Oil","KIKO m12","KIKO LFD EB","KIKO m23","KIKO HFD Oil","KIKO m34","KIKO HFD EB","s3","s4","KO LFD Oil","KO m12","KO LFD EB","KO m23","KO HFD Oil","KO m34","KO HFD EB"]},"axis":{"values":["WT m23","KIKO m23","KO m23"],"labelExpr":"split(datum.value, ' ')[0]","title":null,"tickSize":5,"labelFontSize":15,"labelAngle":0}},
     "y":{"field":"mean","type":"quantitative","scale":{"domain":[0,60],"nice":false},"axis":{"values":[0,20,40,60],"title":"Fat Mass (% BW)","titleFontSize":16,"labelFontSize":15}}
    },
    "layer":[
     {"mark":{"type":"errorbar","ticks":true,"size":12,"thickness":2.5,"color":"#000"},"encoding":{"yError":{"field":"sem"}}},
     {"mark":{"type":"bar","width":12,"stroke":"#000","strokeWidth":2},
      "encoding":{"fill":{"field":"cond","type":"nominal","scale":{"domain":["LFD Oil","LFD EB","HFD Oil","HFD EB"],"range":["#000000","#4f4f4f","#8e8e8e","#cbcbcb"]},"legend":null}}}
    ]},
   {"data":{"name":"ann"},"transform":[{"filter":"datum.panel == 'E' && isValid(datum.from)"}],
    "encoding":{"y":{"field":"y","type":"quantitative","scale":{"domain":[0,60],"nice":false},"axis":{"values":[0,20,40,60],"title":"Fat Mass (% BW)","titleFontSize":16,"labelFontSize":15}}},
    "layer":[
     {"mark":{"type":"rule","strokeWidth":2.5,"color":"#000"},"encoding":{"x":{"field":"from","type":"nominal","scale":{"type":"point","padding":1.8,"domain":["WT LFD Oil","WT m12","WT LFD EB","WT m23","WT HFD Oil","WT m34","WT HFD EB","s1","s2","KIKO LFD Oil","KIKO m12","KIKO LFD EB","KIKO m23","KIKO HFD Oil","KIKO m34","KIKO HFD EB","s3","s4","KO LFD Oil","KO m12","KO LFD EB","KO m23","KO HFD Oil","KO m34","KO HFD EB"]},"axis":{"values":["WT m23","KIKO m23","KO m23"],"labelExpr":"split(datum.value, ' ')[0]","title":null,"tickSize":5,"labelFontSize":15,"labelAngle":0}},"x2":{"field":"to"}}},
     {"mark":{"type":"point","shape":"M0,-1L0,1","size":49,"strokeWidth":2.5,"color":"#000","opacity":1},"encoding":{"x":{"field":"from","type":"nominal","scale":{"type":"point","padding":1.8,"domain":["WT LFD Oil","WT m12","WT LFD EB","WT m23","WT HFD Oil","WT m34","WT HFD EB","s1","s2","KIKO LFD Oil","KIKO m12","KIKO LFD EB","KIKO m23","KIKO HFD Oil","KIKO m34","KIKO HFD EB","s3","s4","KO LFD Oil","KO m12","KO LFD EB","KO m23","KO HFD Oil","KO m34","KO HFD EB"]},"axis":{"values":["WT m23","KIKO m23","KO m23"],"labelExpr":"split(datum.value, ' ')[0]","title":null,"tickSize":5,"labelFontSize":15,"labelAngle":0}}}},
     {"mark":{"type":"point","shape":"M0,-1L0,1","size":49,"strokeWidth":2.5,"color":"#000","opacity":1},"encoding":{"x":{"field":"to","type":"nominal","scale":{"type":"point","padding":1.8,"domain":["WT LFD Oil","WT m12","WT LFD EB","WT m23","WT HFD Oil","WT m34","WT HFD EB","s1","s2","KIKO LFD Oil","KIKO m12","KIKO LFD EB","KIKO m23","KIKO HFD Oil","KIKO m34","KIKO HFD EB","s3","s4","KO LFD Oil","KO m12","KO LFD EB","KO m23","KO HFD Oil","KO m34","KO HFD EB"]},"axis":{"values":["WT m23","KIKO m23","KO m23"],"labelExpr":"split(datum.value, ' ')[0]","title":null,"tickSize":5,"labelFontSize":15,"labelAngle":0}}}}
    ]},
   {"data":{"name":"ann"},"transform":[{"filter":"datum.panel == 'E'"}],
    "encoding":{"x":{"field":"mid","type":"nominal","scale":{"type":"point","padding":1.8,"domain":["WT LFD Oil","WT m12","WT LFD EB","WT m23","WT HFD Oil","WT m34","WT HFD EB","s1","s2","KIKO LFD Oil","KIKO m12","KIKO LFD EB","KIKO m23","KIKO HFD Oil","KIKO m34","KIKO HFD EB","s3","s4","KO LFD Oil","KO m12","KO LFD EB","KO m23","KO HFD Oil","KO m34","KO HFD EB"]},"axis":{"values":["WT m23","KIKO m23","KO m23"],"labelExpr":"split(datum.value, ' ')[0]","title":null,"tickSize":5,"labelFontSize":15,"labelAngle":0}},
     "y":{"field":"y","type":"quantitative","scale":{"domain":[0,60],"nice":false},"axis":{"values":[0,20,40,60],"title":"Fat Mass (% BW)","titleFontSize":16,"labelFontSize":15}}},
    "layer":[
     {"transform":[{"filter":"!isValid(datum.from)"}],"mark":{"type":"point","shape":"M-1,0L1,0","size":100,"strokeWidth":2,"color":"#000","opacity":1}},
     {"mark":{"type":"text","fontSize":15,"baseline":"alphabetic","dy":-2},"encoding":{"text":{"field":"label"}}}
    ]}
  ]},
 {"width":295,"height":193,
  "title":{"text":"F","anchor":"start","frame":"group","dx":-65,"fontSize":22,"offset":0},
  "layer":[
   {"data":{"name":"bars"},"transform":[{"filter":"datum.panel == 'F'"}],
    "encoding":{
     "x":{"field":"key","type":"nominal","scale":{"type":"point","padding":1.8,"domain":["WT LFD Oil","WT m12","WT LFD EB","WT m23","WT HFD Oil","WT m34","WT HFD EB","s1","s2","KIKO LFD Oil","KIKO m12","KIKO LFD EB","KIKO m23","KIKO HFD Oil","KIKO m34","KIKO HFD EB","s3","s4","KO LFD Oil","KO m12","KO LFD EB","KO m23","KO HFD Oil","KO m34","KO HFD EB"]},"axis":{"values":["WT m23","KIKO m23","KO m23"],"labelExpr":"split(datum.value, ' ')[0]","title":null,"tickSize":5,"labelFontSize":15,"labelAngle":0}},
     "y":{"field":"mean","type":"quantitative","scale":{"domain":[0,100],"nice":false},"axis":{"values":[0,20,40,60,80,100],"title":"Lean Mass (% BW)","titleFontSize":14.5,"labelFontSize":15}}
    },
    "layer":[
     {"mark":{"type":"errorbar","ticks":true,"size":12,"thickness":2.5,"color":"#000"},"encoding":{"yError":{"field":"sem"}}},
     {"mark":{"type":"bar","width":12,"stroke":"#000","strokeWidth":2},
      "encoding":{"fill":{"field":"cond","type":"nominal","scale":{"domain":["LFD Oil","LFD EB","HFD Oil","HFD EB"],"range":["#000000","#4f4f4f","#8e8e8e","#cbcbcb"]},"legend":null}}}
    ]},
   {"data":{"name":"ann"},"transform":[{"filter":"datum.panel == 'F' && isValid(datum.from)"}],
    "encoding":{"y":{"field":"y","type":"quantitative","scale":{"domain":[0,100],"nice":false},"axis":{"values":[0,20,40,60,80,100],"title":"Lean Mass (% BW)","titleFontSize":14.5,"labelFontSize":15}}},
    "layer":[
     {"mark":{"type":"rule","strokeWidth":2.5,"color":"#000"},"encoding":{"x":{"field":"from","type":"nominal","scale":{"type":"point","padding":1.8,"domain":["WT LFD Oil","WT m12","WT LFD EB","WT m23","WT HFD Oil","WT m34","WT HFD EB","s1","s2","KIKO LFD Oil","KIKO m12","KIKO LFD EB","KIKO m23","KIKO HFD Oil","KIKO m34","KIKO HFD EB","s3","s4","KO LFD Oil","KO m12","KO LFD EB","KO m23","KO HFD Oil","KO m34","KO HFD EB"]},"axis":{"values":["WT m23","KIKO m23","KO m23"],"labelExpr":"split(datum.value, ' ')[0]","title":null,"tickSize":5,"labelFontSize":15,"labelAngle":0}},"x2":{"field":"to"}}},
     {"mark":{"type":"point","shape":"M0,-1L0,1","size":49,"strokeWidth":2.5,"color":"#000","opacity":1},"encoding":{"x":{"field":"from","type":"nominal","scale":{"type":"point","padding":1.8,"domain":["WT LFD Oil","WT m12","WT LFD EB","WT m23","WT HFD Oil","WT m34","WT HFD EB","s1","s2","KIKO LFD Oil","KIKO m12","KIKO LFD EB","KIKO m23","KIKO HFD Oil","KIKO m34","KIKO HFD EB","s3","s4","KO LFD Oil","KO m12","KO LFD EB","KO m23","KO HFD Oil","KO m34","KO HFD EB"]},"axis":{"values":["WT m23","KIKO m23","KO m23"],"labelExpr":"split(datum.value, ' ')[0]","title":null,"tickSize":5,"labelFontSize":15,"labelAngle":0}}}},
     {"mark":{"type":"point","shape":"M0,-1L0,1","size":49,"strokeWidth":2.5,"color":"#000","opacity":1},"encoding":{"x":{"field":"to","type":"nominal","scale":{"type":"point","padding":1.8,"domain":["WT LFD Oil","WT m12","WT LFD EB","WT m23","WT HFD Oil","WT m34","WT HFD EB","s1","s2","KIKO LFD Oil","KIKO m12","KIKO LFD EB","KIKO m23","KIKO HFD Oil","KIKO m34","KIKO HFD EB","s3","s4","KO LFD Oil","KO m12","KO LFD EB","KO m23","KO HFD Oil","KO m34","KO HFD EB"]},"axis":{"values":["WT m23","KIKO m23","KO m23"],"labelExpr":"split(datum.value, ' ')[0]","title":null,"tickSize":5,"labelFontSize":15,"labelAngle":0}}}}
    ]},
   {"data":{"name":"ann"},"transform":[{"filter":"datum.panel == 'F'"}],
    "encoding":{"x":{"field":"mid","type":"nominal","scale":{"type":"point","padding":1.8,"domain":["WT LFD Oil","WT m12","WT LFD EB","WT m23","WT HFD Oil","WT m34","WT HFD EB","s1","s2","KIKO LFD Oil","KIKO m12","KIKO LFD EB","KIKO m23","KIKO HFD Oil","KIKO m34","KIKO HFD EB","s3","s4","KO LFD Oil","KO m12","KO LFD EB","KO m23","KO HFD Oil","KO m34","KO HFD EB"]},"axis":{"values":["WT m23","KIKO m23","KO m23"],"labelExpr":"split(datum.value, ' ')[0]","title":null,"tickSize":5,"labelFontSize":15,"labelAngle":0}},
     "y":{"field":"y","type":"quantitative","scale":{"domain":[0,100],"nice":false},"axis":{"values":[0,20,40,60,80,100],"title":"Lean Mass (% BW)","titleFontSize":14.5,"labelFontSize":15}}},
    "layer":[
     {"transform":[{"filter":"!isValid(datum.from)"}],"mark":{"type":"point","shape":"M-1,0L1,0","size":100,"strokeWidth":2,"color":"#000","opacity":1}},
     {"mark":{"type":"text","fontSize":15,"baseline":"alphabetic","dy":-2},"encoding":{"text":{"field":"label"}}}
    ]}
  ]}
],"spacing":8,
"resolve":{"scale":{"color":"independent","fill":"independent","shape":"independent","strokeDash":"independent","size":"independent"},"legend":{"color":"independent","fill":"independent","shape":"independent","strokeDash":"independent","size":"independent"}}}
],"spacing":-16,
"resolve":{"scale":{"color":"independent","fill":"independent","shape":"independent","strokeDash":"independent","size":"independent"},"legend":{"color":"independent","fill":"independent","shape":"independent","strokeDash":"independent","size":"independent"}}}
]
}
